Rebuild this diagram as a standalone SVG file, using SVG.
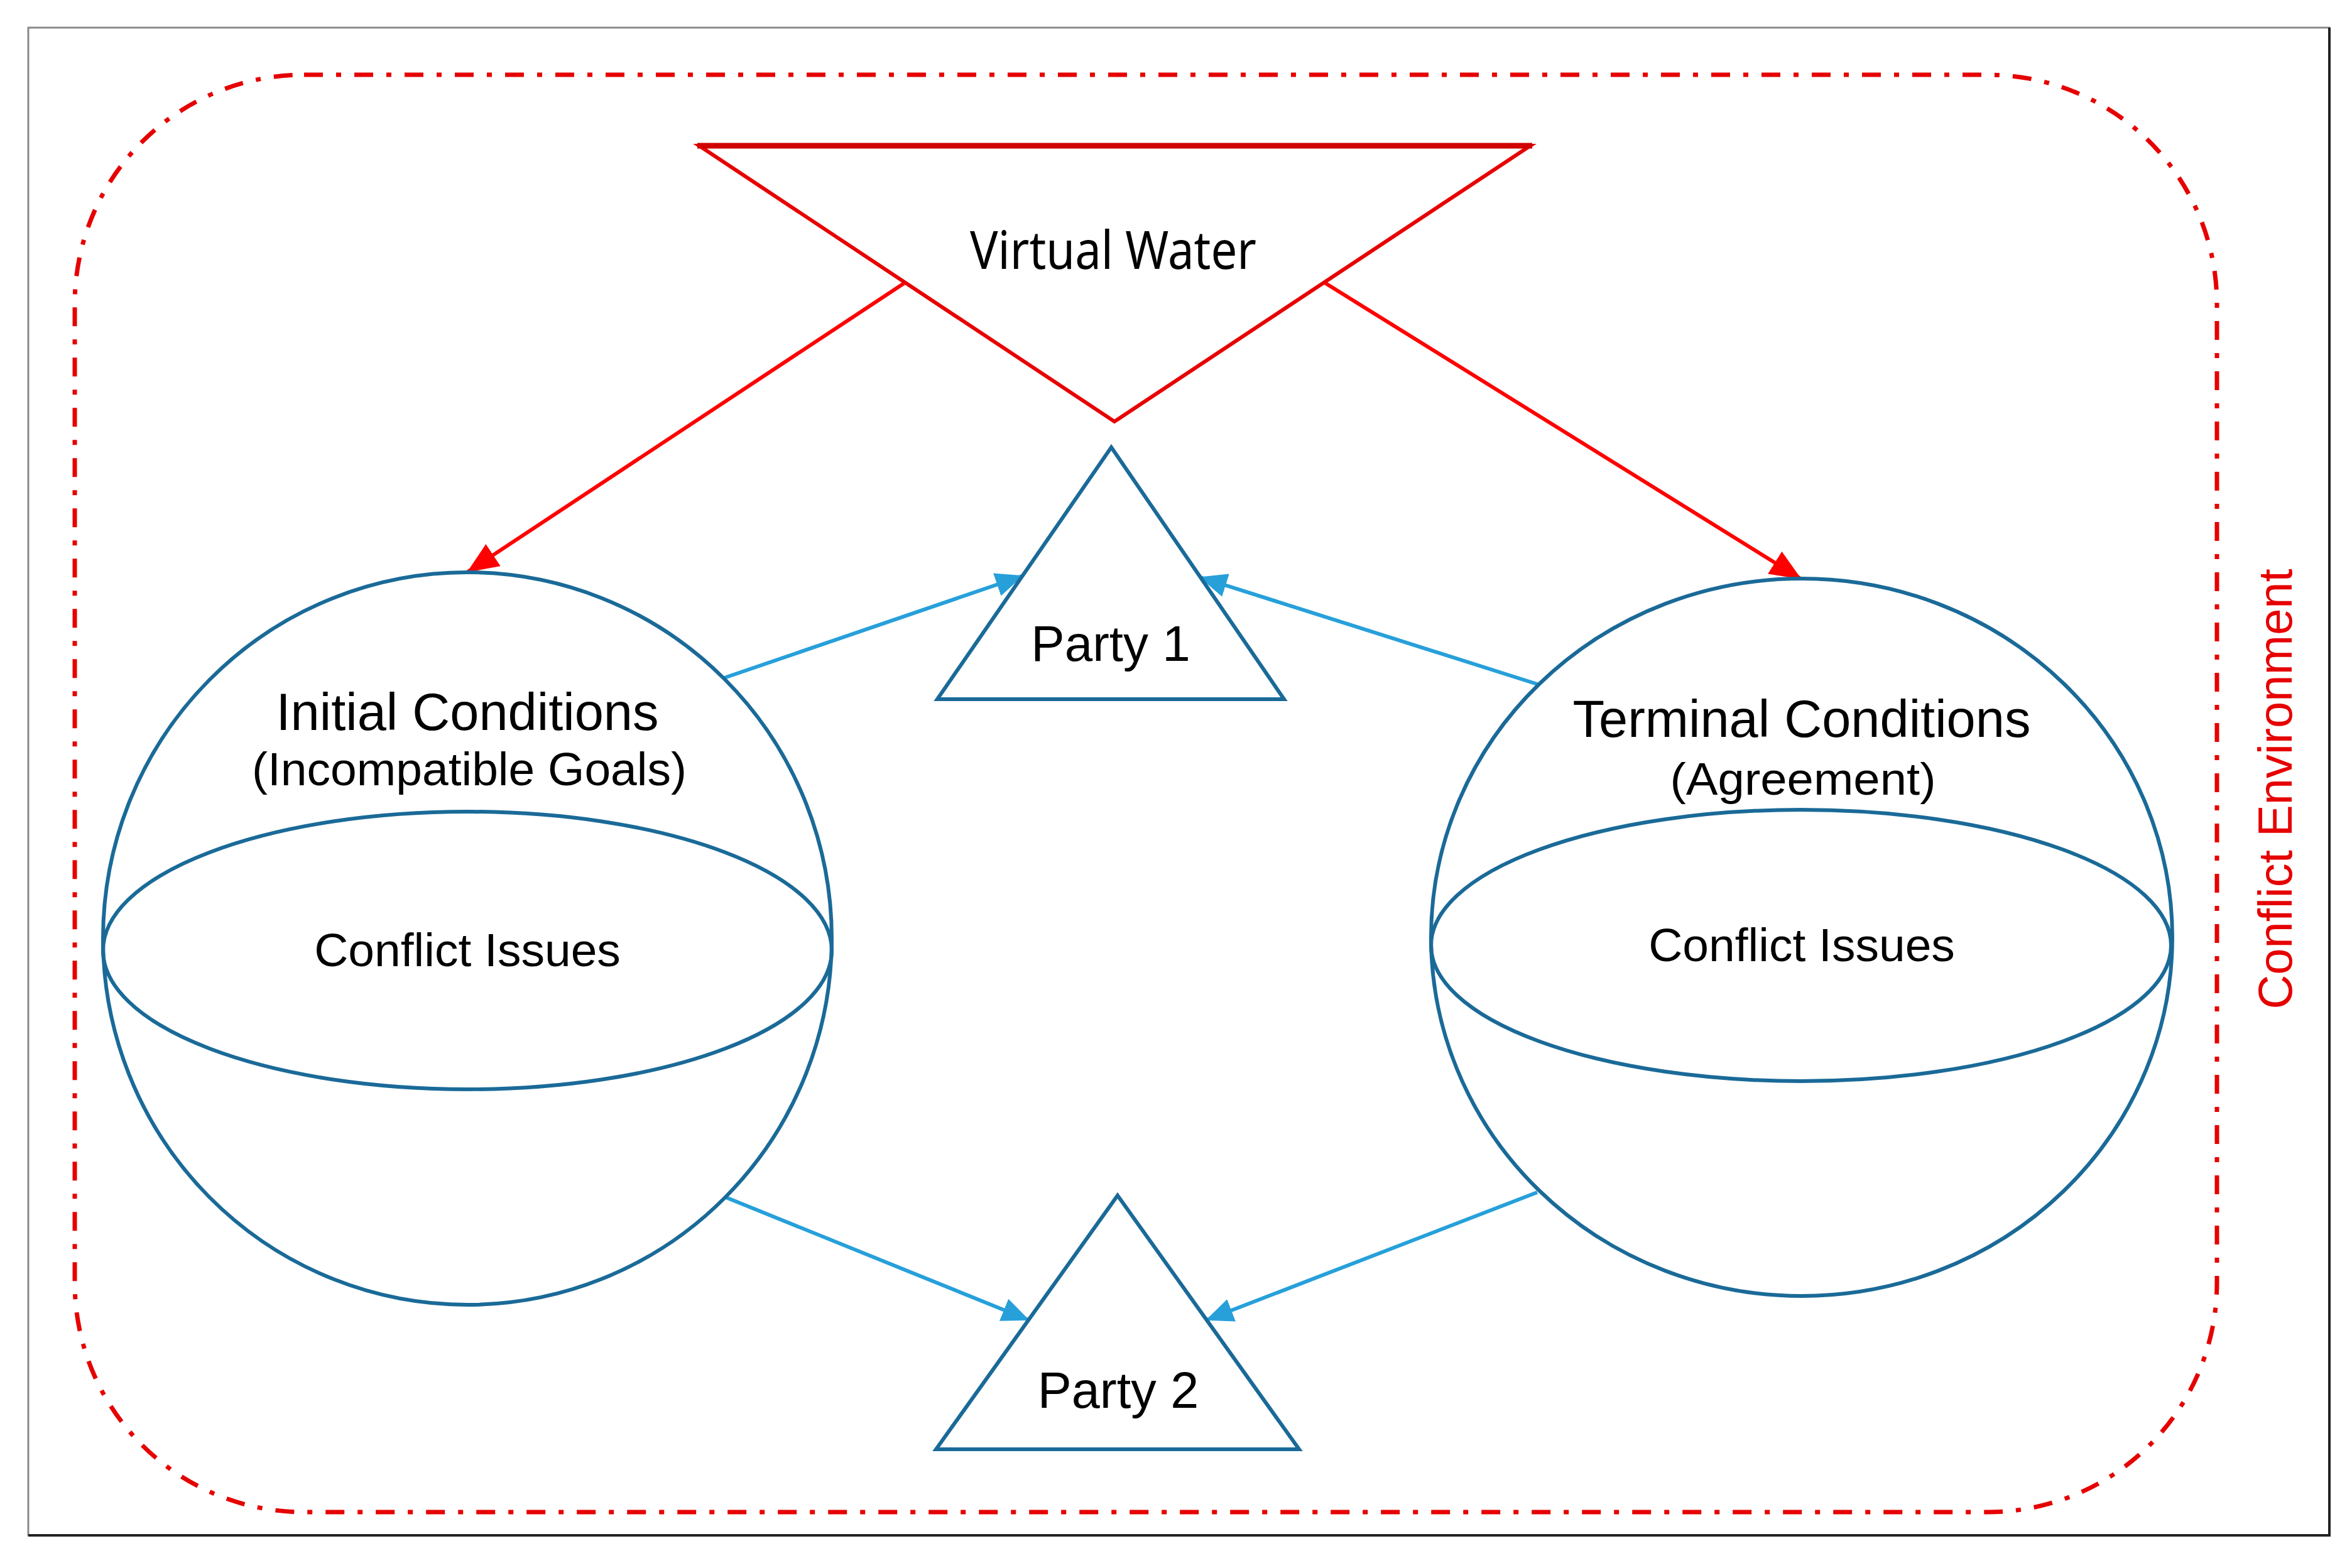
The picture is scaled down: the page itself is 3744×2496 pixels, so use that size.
<svg xmlns="http://www.w3.org/2000/svg" width="3744" height="2496" viewBox="0 0 3744 2496">
<defs>
<style>
.sph{fill:none;stroke:#1A6A98;stroke-width:6}
.tri{fill:none;stroke:#1A6A98;stroke-width:6;stroke-linejoin:miter}
.lbl{font-family:"Liberation Sans",Arial,sans-serif;fill:#000;text-anchor:middle}
.blue{fill:none;stroke:#27A0DA;stroke-width:6}
.red{fill:none;stroke:#FF0000;stroke-width:6}
</style>
<marker id="ahBlue" viewBox="0 0 44 38" refX="42" refY="19" markerWidth="44" markerHeight="38" markerUnits="userSpaceOnUse" orient="auto">
<path d="M0,0 L44,19 L0,38 Z" fill="#27A0DA"/>
</marker>
<marker id="ahRed" viewBox="0 0 50 42" refX="48" refY="21" markerWidth="50" markerHeight="42" markerUnits="userSpaceOnUse" orient="auto">
<path d="M0,0 L50,21 L0,42 Z" fill="#FF0000"/>
</marker>
</defs>
<rect width="3744" height="2496" fill="#fff"/>
<g id="frame">
<rect x="45" y="44" width="3663" height="2400" fill="none" stroke="#8a8a8a" stroke-width="3"/>
<path d="M3708,44 L3708,2444 L45,2444" fill="none" stroke="#222" stroke-width="4"/>
</g>
<g id="conflict-environment">
<rect x="119" y="119" width="3410" height="2288" rx="365" ry="365" fill="none" stroke="#E60000" stroke-width="7" stroke-dasharray="30 21 8 21"/>
<text transform="translate(3648,1256) rotate(-90)" font-family="Liberation Sans,Arial,sans-serif" font-size="76" fill="#E60000" text-anchor="middle">Conflict Environment</text>
</g>
<g id="connectors">
<path class="red" d="M1442,449 L745,910" marker-end="url(#ahRed)"/>
<path class="red" d="M2107,449 L2866,921" marker-end="url(#ahRed)"/>
<path class="blue" d="M1153,1079 L1627,917" marker-end="url(#ahBlue)"/>
<path class="blue" d="M2447,1089 L1911,919" marker-end="url(#ahBlue)"/>
<path class="blue" d="M1153,1905 L1637,2101" marker-end="url(#ahBlue)"/>
<path class="blue" d="M2447,1898 L1921,2101" marker-end="url(#ahBlue)"/>
</g>
<g id="virtual-water">
<polygon points="1113,232 2436,232 1774,671" fill="none" stroke="#E80000" stroke-width="6"/>
<line x1="1110" y1="232" x2="2439" y2="232" stroke="#D00000" stroke-width="9"/>
<text x="1772" y="428" font-family="Noto Sans,Open Sans,sans-serif" font-size="84" fill="#000" text-anchor="middle" textLength="456" lengthAdjust="spacingAndGlyphs">Virtual Water</text>
</g>
<g id="initial-conditions">
<ellipse class="sph" cx="744" cy="1494" rx="580" ry="583"/>
<ellipse class="sph" cx="744" cy="1513" rx="580" ry="221"/>
<text class="lbl" x="744" y="1162" font-size="83">Initial Conditions</text>
<text class="lbl" x="747" y="1250" font-size="75">(Incompatible Goals)</text>
<text class="lbl" x="744" y="1538" font-size="75">Conflict Issues</text>
</g>
<g id="terminal-conditions">
<ellipse class="sph" cx="2868" cy="1492" rx="590" ry="571"/>
<ellipse class="sph" cx="2867" cy="1505" rx="589" ry="216"/>
<text class="lbl" x="2868" y="1173" font-size="83">Terminal Conditions</text>
<text class="lbl" x="2870" y="1265" font-size="72" textLength="423" lengthAdjust="spacingAndGlyphs">(Agreement)</text>
<text class="lbl" x="2868" y="1530" font-size="75">Conflict Issues</text>
</g>
<g id="party-1">
<polygon class="tri" points="1769,712 2044,1113 1492,1113"/>
<text class="lbl" x="1768" y="1052" font-size="80">Party 1</text>
</g>
<g id="party-2">
<polygon class="tri" points="1779,1903 2068,2307 1490,2307"/>
<text class="lbl" x="1780" y="2241" font-size="81">Party 2</text>
</g>
</svg>
